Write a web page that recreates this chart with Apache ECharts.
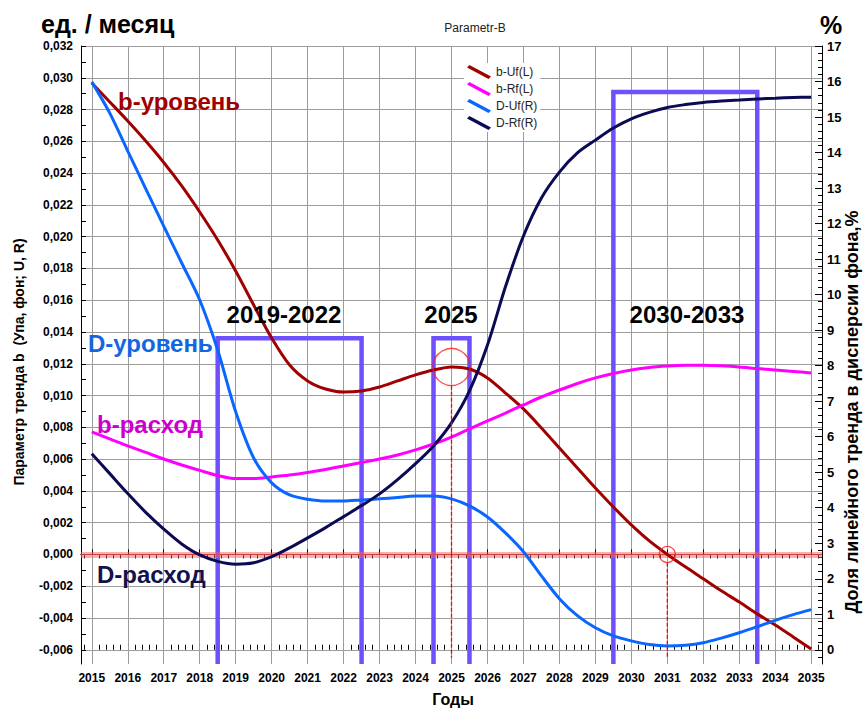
<!DOCTYPE html>
<html>
<head>
<meta charset="utf-8">
<script src="https://cdn.jsdelivr.net/npm/echarts@6/dist/echarts.min.js"></script>
<style>html,body{margin:0;padding:0;background:#fff}#c{width:863px;height:709px}</style>
</head>
<body>
<div id="c"></div>
<script>
// ---------- DATA ----------
// half-year sampling points
const years = [2015, 2015.5, 2016, 2016.5, 2017, 2017.5, 2018, 2018.5, 2019, 2019.5, 2020, 2020.5, 2021, 2021.5, 2022, 2022.5, 2023, 2023.5, 2024, 2024.5, 2025, 2025.5, 2026, 2026.5, 2027, 2027.5, 2028, 2028.5, 2029, 2029.5, 2030, 2030.5, 2031, 2031.5, 2032, 2032.5, 2033, 2033.5, 2034, 2034.5, 2035];
// b-Uf(L) left axis
const bUf = [0.02967, 0.02848, 0.02728, 0.02602, 0.02467, 0.02319, 0.02155, 0.01979, 0.01784, 0.01570, 0.01362, 0.01192, 0.01092, 0.01041, 0.01022, 0.01029, 0.01054, 0.01092, 0.01130, 0.01161, 0.01180, 0.01167, 0.01111, 0.01016, 0.00916, 0.00796, 0.00670, 0.00544, 0.00418, 0.00299, 0.00186, 0.00085, 0.0, -0.00078, -0.00153, -0.00229, -0.00299, -0.00374, -0.00444, -0.00519, -0.00595];
// b-Rf(L) left axis
const bRf = [0.00771, 0.00727, 0.00683, 0.00642, 0.00601, 0.00563, 0.00529, 0.00497, 0.00478, 0.00478, 0.00488, 0.00500, 0.00516, 0.00535, 0.00557, 0.00579, 0.00601, 0.00626, 0.00658, 0.00695, 0.00739, 0.00790, 0.00840, 0.00890, 0.00941, 0.00991, 0.01035, 0.01076, 0.01111, 0.01139, 0.01161, 0.01177, 0.01186, 0.01191, 0.01191, 0.01187, 0.01180, 0.01170, 0.01161, 0.01152, 0.01142];
// D-Uf(R) right axis, %
const dUf = [15.99, 15.11, 14.04, 12.98, 11.93, 10.89, 9.85, 8.44, 6.70, 5.40, 4.70, 4.36, 4.24, 4.19, 4.19, 4.22, 4.25, 4.29, 4.33, 4.33, 4.25, 4.05, 3.74, 3.29, 2.76, 2.08, 1.44, 0.96, 0.62, 0.39, 0.25, 0.15, 0.11, 0.13, 0.20, 0.33, 0.48, 0.65, 0.83, 0.99, 1.13];
// D-Rf(R) right axis, %
const dRf = [5.52, 4.96, 4.40, 3.87, 3.40, 2.98, 2.67, 2.49, 2.41, 2.45, 2.62, 2.87, 3.15, 3.44, 3.75, 4.06, 4.39, 4.79, 5.24, 5.74, 6.39, 7.29, 8.58, 10.22, 11.65, 12.72, 13.45, 13.99, 14.35, 14.69, 14.95, 15.13, 15.27, 15.35, 15.41, 15.45, 15.48, 15.51, 15.53, 15.55, 15.56];

// highlighted periods (boxes)
const boxStart = [2018.5, 2024.5, 2029.5];
const boxEnd   = [2022.5, 2025.5, 2033.5];
const boxTop   = [0.0136, 0.0136, 0.0291];
const boxLabels = ['2019-2022', '2025', '2030-2033'];

// marked points (circles + dashed drop lines)
const markYears  = [2025, 2031];
const markValues = [0.0118, 0.0];
const dashTop    = [0.01062, -0.00052];
const dashBottom = -0.0065;

// tick labels
const xTickLabels = [2015, 2016, 2017, 2018, 2019, 2020, 2021, 2022, 2023, 2024, 2025, 2026, 2027, 2028, 2029, 2030, 2031, 2032, 2033, 2034, 2035];
const leftTickLabels = [-0.006, -0.004, -0.002, 0, 0.002, 0.004, 0.006, 0.008, 0.010, 0.012, 0.014, 0.016, 0.018, 0.020, 0.022, 0.024, 0.026, 0.028, 0.030, 0.032];
const rightTickLabels = [0, 1, 2, 3, 4, 5, 6, 7, 8, 9, 10, 11, 12, 13, 14, 15, 16, 17];

// ---------- AXIS RANGES ----------
const X_MIN = 2014.7, X_MAX = 2035.3;
const L_MIN = -0.006894, L_MAX = 0.032;
const R_MIN = -0.4, R_MAX = 17;

const xMinor = [];
for (let i = Math.ceil(X_MIN * 5); i <= Math.floor(X_MAX * 5); i++) if (i % 5 !== 0) xMinor.push(i / 5);
const leftMinor = [];
for (let i = -6; i <= 32; i++) if (Math.abs(i % 2) === 1) leftMinor.push(i / 1000);
const rightMinor = [];
for (let i = -1; i <= 85; i++) if (i % 5 !== 0) rightMinor.push(i / 5);

const FONT = 'Liberation Sans, Arial, Helvetica, sans-serif';
const pairs = (xs, ys) => xs.map((x, i) => [x, ys[i]]);
const ICON = 'path://M0,2.4 L2.4,0 L24,11.6 L21.6,14 Z';

const C_RED = '#A00000', C_MAG = '#FF00FF', C_BLUE = '#0A66FF', C_NAVY = '#0A0A55';
const C_BOX = '#6E50FF';

const chart = echarts.init(document.getElementById('c'), null, {renderer: 'svg', width: 863, height: 709});

const axisBlack = {show: true, lineStyle: {color: '#000', width: 1}};
const minorAxis = (pos, type, vals, len) => ({
  type: 'value', position: pos,
  min: type === 'x' ? X_MIN : (pos === 'left' ? L_MIN : R_MIN),
  max: type === 'x' ? X_MAX : (pos === 'left' ? L_MAX : R_MAX),
  axisLine: {show: false},
  axisTick: {show: true, inside: true, length: len, customValues: vals, lineStyle: {color: '#000'}},
  axisLabel: {show: false},
  splitLine: {show: false}
});

const series = [];

// boxes
boxStart.forEach((s, i) => {
  series.push({
    type: 'line', name: 'box' + i, xAxisIndex: 0, yAxisIndex: 0,
    data: [[s, L_MIN], [s, boxTop[i]], [boxEnd[i], boxTop[i]], [boxEnd[i], L_MIN]],
    showSymbol: false, symbol: 'none', clip: false, silent: true, z: 2,
    lineStyle: {color: C_BOX, width: 4.5, join: 'miter'},
    emphasis: {disabled: true}
  });
});

// zero line band
series.push({
  type: 'line', name: 'zero', xAxisIndex: 0, yAxisIndex: 0,
  data: [[2015, 0]], showSymbol: false, symbol: 'none', silent: true, z: 3,
  lineStyle: {width: 0},
  markLine: {
    silent: true, symbol: ['none', 'none'], label: {show: false}, animation: false,
    emphasis: {disabled: true},
    data: [
      {yAxis: 0, lineStyle: {color: 'rgba(245,95,95,0.5)', width: 6, type: 'solid'}},
      {yAxis: 0, lineStyle: {color: 'rgba(230,70,70,0.75)', width: 1, type: 'solid'}}
    ]
  }
});

// curves
const SM = 0.3;
series.push(
  {type: 'line', name: 'b-Uf(L)', xAxisIndex: 0, yAxisIndex: 0, data: pairs(years, bUf), smooth: SM, showSymbol: false, symbol: 'none', color: C_RED, lineStyle: {width: 3}, z: 5},
  {type: 'line', name: 'b-Rf(L)', xAxisIndex: 0, yAxisIndex: 0, data: pairs(years, bRf), smooth: SM, showSymbol: false, symbol: 'none', color: C_MAG, lineStyle: {width: 3}, z: 5},
  {type: 'line', name: 'D-Uf(R)', xAxisIndex: 0, yAxisIndex: 1, data: pairs(years, dUf), smooth: SM, showSymbol: false, symbol: 'none', color: C_BLUE, lineStyle: {width: 3}, z: 5},
  {type: 'line', name: 'D-Rf(R)', xAxisIndex: 0, yAxisIndex: 1, data: pairs(years, dRf), smooth: SM, showSymbol: false, symbol: 'none', color: C_NAVY, lineStyle: {width: 3}, z: 5}
);

// dashed drop lines
markYears.forEach((yr, i) => {
  series.push({
    type: 'line', name: 'drop' + i, xAxisIndex: 0, yAxisIndex: 0,
    data: [[yr, dashTop[i]], [yr, dashBottom]],
    showSymbol: false, symbol: 'none', silent: true, z: 6,
    lineStyle: {color: '#FF0000', width: 1.3, type: [4, 2]}
  });
});

// circles
series.push({
  type: 'scatter', name: 'circles', xAxisIndex: 0, yAxisIndex: 0, silent: true, z: 6,
  data: markYears.map((yr, i) => ({value: [yr, markValues[i]], symbolSize: i === 0 ? 37 : 16})),
  itemStyle: {color: 'rgba(0,0,0,0)', borderColor: '#FF1A1A', borderWidth: 1.3}
});

const txt = (t, x, y, font, fill, align, rot) => ({
  type: 'text', x: x, y: y, rotation: rot || 0, z: 100, silent: true,
  style: {text: t, font: font, fill: fill, align: align || 'left', verticalAlign: 'middle'}
});

const boxLabelX = [284, 451, 687];

const option = {
  animation: false,
  backgroundColor: '#fff',
  textStyle: {fontFamily: FONT},
  grid: {left: 81, right: 41, top: 46, bottom: 45},
  legend: {
    data: ['b-Uf(L)', 'b-Rf(L)', 'D-Uf(R)', 'D-Rf(R)'].map(n => ({name: n, icon: ICON})),
    orient: 'vertical', left: 464, top: 63, padding: [2, 3],
    itemWidth: 24, itemHeight: 14, itemGap: 3,
    backgroundColor: '#fff', selectedMode: false,
    textStyle: {fontSize: 12, color: '#222', fontFamily: FONT}
  },
  xAxis: [
    {
      type: 'value', position: 'bottom', min: X_MIN, max: X_MAX,
      axisLine: axisBlack,
      axisTick: {show: true, inside: true, length: 5, customValues: xTickLabels, lineStyle: {color: '#000'}},
      axisLabel: {customValues: xTickLabels, formatter: v => String(Math.round(v)), fontWeight: 'bold', fontSize: 12, color: '#000', margin: 8, fontFamily: FONT},
      splitLine: {show: true, lineStyle: {color: '#9c9c9c', width: 1}}
    },
    minorAxis('bottom', 'x', xMinor, 5),
    Object.assign(minorAxis('top', 'x', xMinor, 4), {axisLine: axisBlack})
  ],
  yAxis: [
    {
      type: 'value', position: 'left', min: L_MIN, max: L_MAX,
      axisLine: axisBlack,
      axisTick: {show: true, inside: true, length: 5, customValues: leftTickLabels, lineStyle: {color: '#000'}},
      axisLabel: {customValues: leftTickLabels, formatter: v => (Math.abs(v) < 1e-9 ? 0 : v).toFixed(3).replace('.', ','), fontWeight: 'bold', fontSize: 12, color: '#000', margin: 8, fontFamily: FONT},
      splitLine: {show: true, lineStyle: {color: '#9c9c9c', width: 1}}
    },
    {
      type: 'value', position: 'right', min: R_MIN, max: R_MAX,
      axisLine: axisBlack,
      axisTick: {show: true, inside: true, length: 7, customValues: rightTickLabels, lineStyle: {color: '#000'}},
      axisLabel: {customValues: rightTickLabels, formatter: v => String(Math.round(v)), fontWeight: 'bold', fontSize: 13, color: '#000', margin: 5, fontFamily: FONT},
      splitLine: {show: false}
    },
    minorAxis('left', 'y', leftMinor, 5),
    minorAxis('right', 'y', rightMinor, 4)
  ],
  series: series,
  graphic: [
    txt('ед. / месяц', 41, 24, 'bold 25px ' + FONT, '#000'),
    txt('Parametr-B', 475, 28, '12px ' + FONT, '#222', 'center'),
    txt('%', 820, 25, 'bold 25px ' + FONT, '#000'),
    txt('Годы', 453, 699, 'bold 16px ' + FONT, '#000', 'center'),
    txt('Параметр тренда b  (Упа, фон; U, R)', 19, 362, 'bold 14px ' + FONT, '#000', 'center', Math.PI / 2),
    txt('Доля линейного тренда в дисперсии фона,%', 852, 412, 'bold 18px ' + FONT, '#000', 'center', Math.PI / 2),
    txt('b-уровень', 118, 101, 'bold 24px ' + FONT, '#A00000'),
    txt('D-уровень', 88, 343, 'bold 24px ' + FONT, '#1466E0'),
    txt('b-расход', 97, 424, 'bold 24px ' + FONT, '#CC00CC'),
    txt('D-расход', 97, 574, 'bold 24px ' + FONT, '#12124F')
  ].concat(boxLabels.map((t, i) => txt(t, boxLabelX[i], 314, 'bold 24px ' + FONT, '#000', 'center')))
};

chart.setOption(option);
</script>
</body>
</html>
